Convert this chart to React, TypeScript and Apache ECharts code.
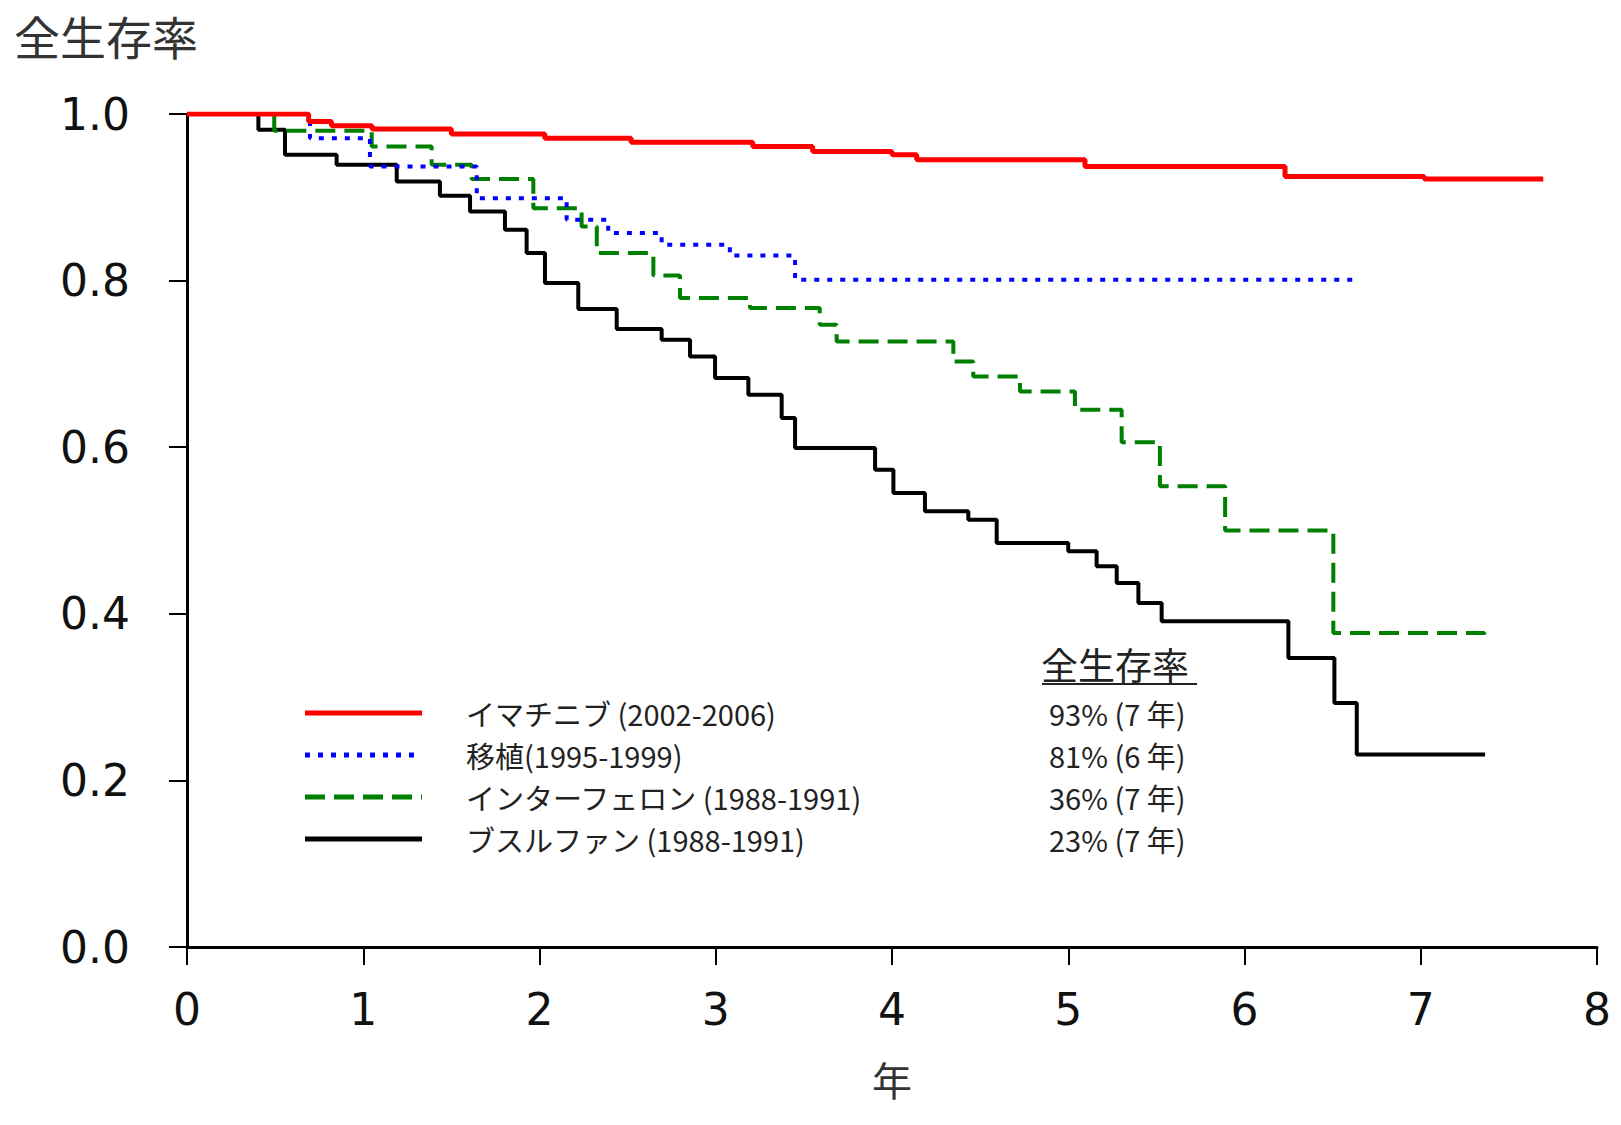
import React, { useEffect, useRef } from "react";
import * as echarts from "echarts";

// ---- data (years, overall survival) ----
const seriesNames = [
  "イマチニブ (2002-2006)",
  "移植(1995-1999)",
  "インターフェロン (1988-1991)",
  "ブスルファン (1988-1991)",
];
const survivalLabels = ["93% (7 年)", "81% (6 年)", "36% (7 年)", "23% (7 年)"];

const imatinibT = [0, 0.69, 0.82, 1.05, 1.5, 2.03, 2.52, 3.21, 3.55, 4.0, 4.14, 5.095, 6.23, 7.02, 7.695];
const imatinibV = [1.0, 0.991, 0.986, 0.982, 0.976, 0.971, 0.966, 0.961, 0.955, 0.951, 0.945, 0.937, 0.925, 0.922, 0.922];

const transplantT = [0, 0.698, 1.038, 1.644, 2.154, 2.39, 2.693, 3.08, 3.45, 6.637];
const transplantV = [1.0, 0.971, 0.937, 0.899, 0.873, 0.857, 0.843, 0.83, 0.801, 0.801];

const interferonT = [0, 0.495, 1.048, 1.388, 1.615, 1.965, 2.239, 2.325, 2.646, 2.797, 3.194, 3.59, 3.686, 4.348, 4.461, 4.726, 5.038, 5.303, 5.52, 5.89, 6.504, 7.36];
const interferonV = [1.0, 0.98, 0.961, 0.939, 0.922, 0.887, 0.865, 0.833, 0.806, 0.779, 0.767, 0.747, 0.727, 0.703, 0.685, 0.667, 0.645, 0.606, 0.553, 0.5, 0.377, 0.375];

const busulfanT = [0, 0.405, 0.556, 0.849, 1.19, 1.435, 1.606, 1.804, 1.927, 2.031, 2.22, 2.438, 2.693, 2.854, 2.996, 3.185, 3.374, 3.45, 3.904, 4.008, 4.187, 4.433, 4.594, 5.0, 5.161, 5.275, 5.398, 5.53, 6.249, 6.51, 6.637, 7.365];
const busulfanV = [1.0, 0.981, 0.951, 0.939, 0.919, 0.902, 0.883, 0.861, 0.833, 0.797, 0.766, 0.742, 0.729, 0.709, 0.683, 0.663, 0.635, 0.599, 0.573, 0.545, 0.523, 0.513, 0.485, 0.475, 0.457, 0.437, 0.413, 0.391, 0.347, 0.293, 0.231, 0.231];

const yTitle = "全生存率";
const xTitle = "年";
const legendHeader = "全生存率";

const colors = ["#ff0000", "#0000ff", "#008000", "#000000"];
const widths = [5, 4, 4, 4];
const dashes: (number[] | null)[] = [null, [5, 8], [20, 9], null];

const zip = (t: number[], v: number[]) => t.map((x, i) => [x, v[i]]);

export default function App() {
  const ref = useRef<HTMLDivElement>(null);
  useEffect(() => {
    if (!ref.current) return;
    const chart = echarts.init(ref.current, null, { renderer: "svg" });
    const curves = [
      zip(imatinibT, imatinibV),
      zip(transplantT, transplantV),
      zip(interferonT, interferonV),
      zip(busulfanT, busulfanV),
    ];
    const order = [3, 2, 1, 0];
    const series = order.map((i, k) => ({
      name: seriesNames[i],
      type: "line",
      step: "end",
      showSymbol: false,
      symbol: "none",
      data: curves[i],
      lineStyle: {
        color: colors[i],
        width: widths[i],
        type: dashes[i] ? dashes[i] : "solid",
      },
      z: 3 + k,
    }));

    const jpFont = '"Noto Sans CJK JP", sans-serif';
    const rowY = [713, 755, 797, 839];
    const legendGraphics: any[] = [];
    const txt = (x: number, y: number, text: string, size: number, fill = "#222") => ({
      type: "text",
      x,
      y,
      style: {
        text,
        font: `${size}px ${jpFont}`,
        fill,
        align: "left",
        verticalAlign: "middle",
        textAlign: "left",
        textVerticalAlign: "middle",
      },
    });
    seriesNames.forEach((name, i) => {
      legendGraphics.push({
        type: "line",
        shape: { x1: 305, y1: rowY[i], x2: 422, y2: rowY[i] },
        style: {
          stroke: colors[i],
          lineWidth: 5,
          lineDash: dashes[i] ? dashes[i] : null,
        },
      });
      legendGraphics.push(txt(466, rowY[i], name, 29));
      legendGraphics.push(txt(1049, rowY[i], survivalLabels[i], 29));
    });
    legendGraphics.push(txt(1041, 664, legendHeader, 37));
    legendGraphics.push({
      type: "line",
      shape: { x1: 1042, y1: 684, x2: 1197, y2: 684 },
      style: { stroke: "#222", lineWidth: 2 },
    });
    legendGraphics.push(txt(14, 35, yTitle, 46, "#333"));

    chart.setOption({
      animation: false,
      backgroundColor: "#ffffff",
      grid: { left: 187, right: 24, top: 114, bottom: 178, containLabel: false },
      xAxis: {
        type: "value",
        min: 0,
        max: 8,
        interval: 1,
        name: xTitle,
        nameLocation: "middle",
        nameGap: 112,
        nameTextStyle: { fontFamily: jpFont, fontSize: 40, color: "#333", verticalAlign: "top" },
        axisLine: { show: true, onZero: false, lineStyle: { color: "#000", width: 3 } },
        axisTick: { show: true, length: 18, lineStyle: { color: "#000", width: 2 } },
        axisLabel: {
          margin: 40,
          fontFamily: "DejaVu Sans",
          fontSize: 44,
          color: "#111",
        },
        splitLine: { show: false },
      },
      yAxis: {
        type: "value",
        min: 0,
        max: 1,
        interval: 0.2,
        axisLine: { show: true, onZero: false, lineStyle: { color: "#000", width: 3 } },
        axisTick: { show: true, length: 18, lineStyle: { color: "#000", width: 2 } },
        axisLabel: {
          margin: 57,
          fontFamily: "DejaVu Sans",
          fontSize: 44,
          color: "#111",
          formatter: (v: number) => v.toFixed(1),
        },
        splitLine: { show: false },
      },
      series,
      graphic: legendGraphics,
    });
    return () => chart.dispose();
  }, []);
  return (
    <div
      ref={ref}
      style={{ position: "fixed", left: 0, top: 0, width: 1621, height: 1125, background: "#fff" }}
    />
  );
}
